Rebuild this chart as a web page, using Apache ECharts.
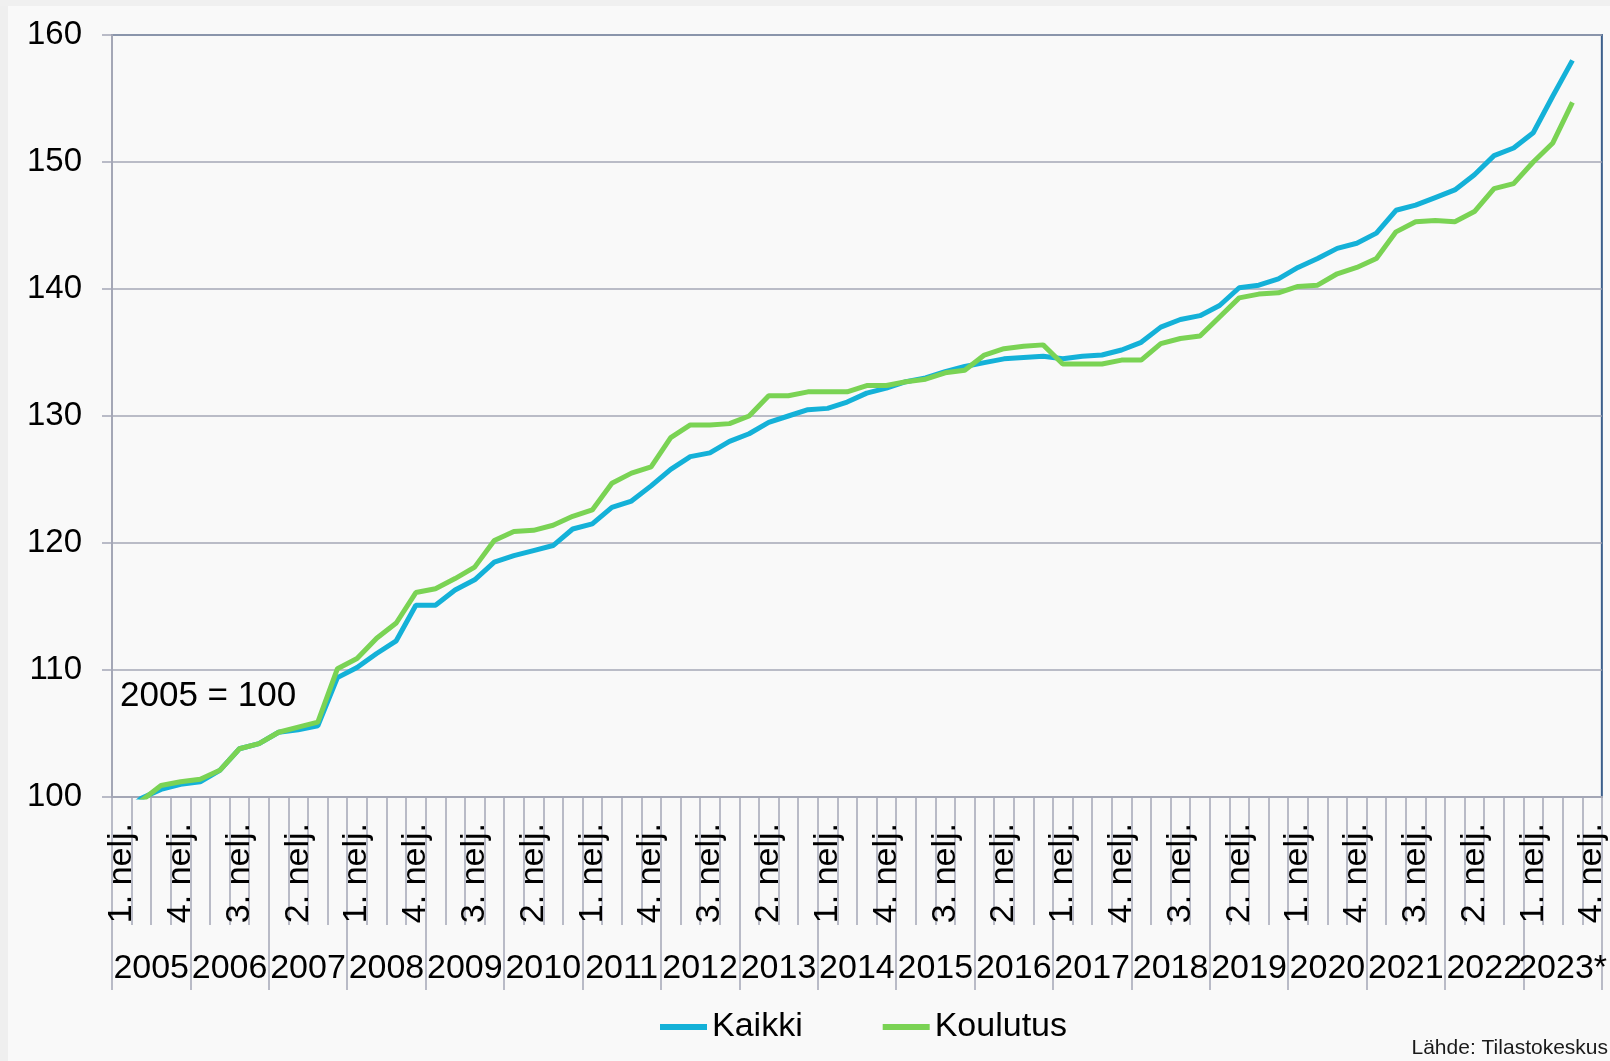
<!DOCTYPE html>
<html>
<head>
<meta charset="utf-8">
<title>Kaikki / Koulutus</title>
<script src="https://cdn.jsdelivr.net/npm/echarts@6/dist/echarts.min.js"></script>
<style>
  html, body { margin: 0; padding: 0; background: #f9f9f9; }
  #chart { width: 1610px; height: 1061px; }
</style>
</head>
<body>
<div id="chart"></div>
<script>
// vuodet ja neljännekset
var years = ['2005', '2006', '2007', '2008', '2009', '2010', '2011', '2012', '2013', '2014',
  '2015', '2016', '2017', '2018', '2019', '2020', '2021', '2022', '2023*'];
var quarterNames = ['1. nelj.', '2. nelj.', '3. nelj.', '4. nelj.'];

// 2005 = 100, viimeinen neljännes puuttuu
var kaikki = [
  98.6, 99.9, 100.6, 101.0, 101.2, 102.1, 103.8, 104.2, 105.1, 105.3,
  105.6, 109.4, 110.2, 111.3, 112.3, 115.1, 115.1, 116.3, 117.1, 118.5,
  119.0, 119.4, 119.8, 121.1, 121.5, 122.8, 123.3, 124.5, 125.8, 126.8,
  127.1, 128.0, 128.6, 129.5, 130.0, 130.5, 130.6, 131.1, 131.8, 132.2,
  132.7, 133.0, 133.5, 133.9, 134.2, 134.5, 134.6, 134.7, 134.5, 134.7,
  134.8, 135.2, 135.8, 137.0, 137.6, 137.9, 138.7, 140.1, 140.3, 140.8,
  141.7, 142.4, 143.2, 143.6, 144.4, 146.2, 146.6, 147.2, 147.8, 149.0,
  150.5, 151.1, 152.3, 155.2, 158.0, null
];
var koulutus = [
  98.3, 99.7, 100.9, 101.2, 101.4, 102.1, 103.8, 104.2, 105.1, 105.5,
  105.9, 110.1, 110.9, 112.5, 113.7, 116.1, 116.4, 117.2, 118.1, 120.2,
  120.9, 121.0, 121.4, 122.1, 122.6, 124.7, 125.5, 126.0, 128.3, 129.3,
  129.3, 129.4, 130.0, 131.6, 131.6, 131.9, 131.9, 131.9, 132.4, 132.4,
  132.7, 132.9, 133.4, 133.6, 134.8, 135.3, 135.5, 135.6, 134.1, 134.1,
  134.1, 134.4, 134.4, 135.7, 136.1, 136.3, 137.8, 139.3, 139.6, 139.7,
  140.2, 140.3, 141.2, 141.7, 142.4, 144.5, 145.3, 145.4, 145.3, 146.1,
  147.9, 148.3, 150.0, 151.5, 154.7, null
];

var quarters = [];
years.forEach(function (y) {
  quarterNames.forEach(function (q) { quarters.push(q); });
});

var font = 'Liberation Sans, Arial, sans-serif';
var axisGray = '#a4a7b6';

var myChart = echarts.init(document.getElementById('chart'));
var option = {
  backgroundColor: '#f9f9f9',
  animation: false,
  textStyle: { fontFamily: font, color: '#000' },
  grid: {
    left: 112, right: 5, top: 35, bottom: 264,
    show: true,
    borderColor: '#3d5f8c',
    borderWidth: 2,
    backgroundColor: 'transparent'
  },
  legend: {
    left: 655,
    top: 1005,
    icon: 'rect',
    itemWidth: 47,
    itemHeight: 6,
    itemGap: 80,
    textStyle: { fontSize: 34, color: '#000', fontFamily: font },
    data: ['Kaikki', 'Koulutus']
  },
  xAxis: [
    {
      type: 'category',
      data: quarters,
      boundaryGap: true,
      axisLine: { show: true, lineStyle: { color: axisGray, width: 2 } },
      axisTick: { show: true, interval: 0, length: 128, lineStyle: { color: axisGray, width: 1.5 } },
      axisLabel: {
        show: true,
        interval: 2,
        rotate: 90,
        margin: 26,
        fontSize: 34,
        color: '#000',
        fontFamily: font
      },
      splitLine: { show: false }
    },
    {
      type: 'category',
      data: years,
      position: 'bottom',
      boundaryGap: true,
      axisLine: { show: true, lineStyle: { color: axisGray, width: 2 } },
      axisTick: { show: true, interval: 0, length: 193, lineStyle: { color: axisGray, width: 1.5 } },
      axisLabel: {
        show: true,
        interval: 0,
        margin: 155,
        fontSize: 34,
        color: '#000',
        fontFamily: font
      },
      splitLine: { show: false }
    }
  ],
  yAxis: {
    type: 'value',
    min: 100,
    max: 160,
    interval: 10,
    axisLine: { show: true, lineStyle: { color: axisGray, width: 2 } },
    axisTick: { show: true, length: 10, lineStyle: { color: axisGray, width: 1.5 } },
    axisLabel: { margin: 30, fontSize: 33, color: '#000', fontFamily: font },
    splitLine: { lineStyle: { color: axisGray, width: 1.5 } }
  },
  series: [
    {
      name: 'Kaikki',
      type: 'line',
      data: kaikki,
      xAxisIndex: 0,
      showSymbol: false,
      clip: true,
      lineStyle: { width: 5, color: '#14b1d8' },
      itemStyle: { color: '#14b1d8' }
    },
    {
      name: 'Koulutus',
      type: 'line',
      data: koulutus,
      xAxisIndex: 0,
      showSymbol: false,
      clip: true,
      lineStyle: { width: 5, color: '#7ad354' },
      itemStyle: { color: '#7ad354' }
    }
  ],
  graphic: [
    // harmaat reunat vasemmalla ja ylhäällä
    { type: 'rect', left: 0, top: 0, shape: { width: 8, height: 1061 }, style: { fill: '#efefef' }, z: -1 },
    { type: 'rect', left: 0, top: 0, shape: { width: 1610, height: 6 }, style: { fill: '#f0f0f0' }, z: -1 },
    {
      type: 'text', left: 120, top: 679,
      style: { text: '2005 = 100', fontSize: 35, fill: '#000', fontFamily: font }
    },
    {
      type: 'text', right: 2, top: 1038,
      style: { text: 'Lähde: Tilastokeskus', fontSize: 21, fill: '#1a1a1a', fontFamily: font }
    }
  ]
};

option && myChart.setOption(option);
</script>
</body>
</html>
